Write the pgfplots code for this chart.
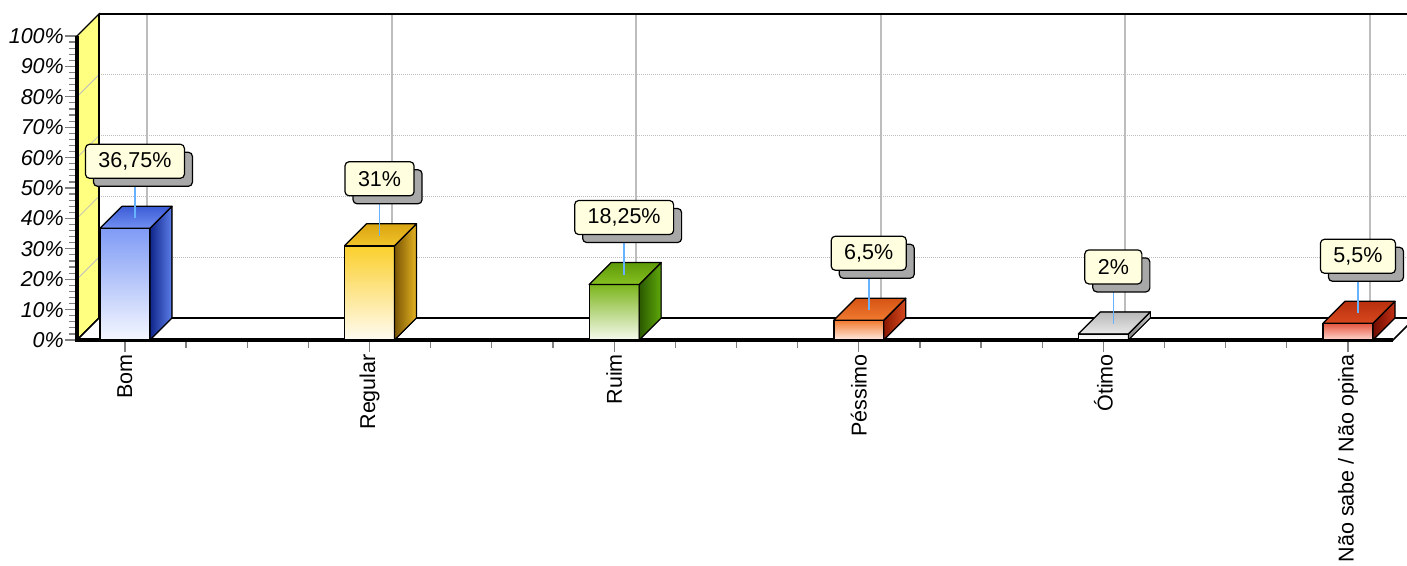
\documentclass[border=0pt]{standalone}
\usepackage{pgfplots}
\pgfplotsset{compat=1.18}
\usepackage{pgfplotstable}
\usepackage{fontspec}
\setmainfont{Liberation Sans}
\usetikzlibrary{shadows}

\definecolor{wallyellow}{HTML}{FFFF80}
\definecolor{labelfill}{HTML}{FFFFE0}
\definecolor{leader}{HTML}{66B2FF}
\definecolor{gridgray}{HTML}{BDBDBD}
\definecolor{tickgray}{HTML}{808080}

\tikzset{labelbox/.style={
    anchor=center, font=\fontsize{21.5}{25}\selectfont, text=black,
    fill=labelfill, draw=black, line width=1.2pt, rounded corners=4pt,
    inner xsep=13pt, inner ysep=0pt, minimum height=34pt,
    drop shadow={shadow xshift=8pt, shadow yshift=-8pt, fill=black!34, opacity=1, rounded corners=0pt}}}

\pgfdeclareplotmark{none3d}{}
\newcommand\setbar[6]{%
  \definecolor{cF}{HTML}{#1}\definecolor{cB}{HTML}{#2}%
  \definecolor{cSd}{HTML}{#3}\definecolor{cSl}{HTML}{#4}%
  \definecolor{cT1}{HTML}{#5}\definecolor{cT2}{HTML}{#6}}

\pgfplotstableread{
x v c
0 36.75 0
1 31 1
2 18.25 2
3 6.5 3
4 2 4
5 5.5 5
}\datatable

\def\xL{-0.196}
\def\xR{5.184}

\begin{document}
\begin{tikzpicture}
\begin{axis}[
  x=244.6pt, y=3.04pt,
  xmin=\xL, xmax=\xR, ymin=0, ymax=100,
  clip=false,
  axis x line*=bottom, axis y line*=left,
  axis line style={draw=none},
  tick align=outside,
  tick style={tickgray, line width=1.2pt},
  major tick length=12pt, minor tick length=8pt,
  xtick={0,...,5}, minor x tick num=3,
  xticklabels={Bom,Regular,Ruim,Péssimo,Ótimo,Não sabe / Não opina},
  xticklabel style={rotate=90, anchor=east, inner sep=2pt, font=\fontsize{21.5}{25}\selectfont},
  ytick={0,10,...,100}, minor y tick num=4,
  yticklabels={0\%,10\%,20\%,30\%,40\%,50\%,60\%,70\%,80\%,90\%,100\%},
  yticklabel style={anchor=east, inner sep=1pt, font=\fontsize{21.5}{25}\selectfont\itshape},
]
% left (yellow) wall
\filldraw[fill=wallyellow, draw=black, line width=1.2pt]
  (axis cs:\xL,0) -- ([shift={(22pt,22pt)}]axis cs:\xL,0)
  -- ([shift={(22pt,22pt)}]axis cs:\xL,100) -- (axis cs:\xL,100) -- cycle;
\pgfplotsinvokeforeach{20,40,60,80}{
  \draw[gridgray, line width=0.8pt] (axis cs:\xL,#1) -- ([shift={(22pt,22pt)}]axis cs:\xL,#1);
  \draw[gridgray, line width=1pt, densely dotted] ([shift={(22pt,22pt)}]axis cs:\xL,#1) -- ([shift={(22pt,22pt)}]axis cs:\xR,#1);
}
\pgfplotsinvokeforeach{0,...,5}{
  \draw[gridgray, line width=2pt] ([shift={(22pt,22pt)}]axis cs:#1,0) -- ([shift={(22pt,22pt)}]axis cs:#1,100);
}
\draw[black, line width=2pt] ([shift={(22pt,22pt)}]axis cs:\xL,100) -- ([shift={(40pt,22pt)}]axis cs:\xR,100);
\draw[black, line width=1.2pt] ([shift={(22pt,22pt)}]axis cs:\xL,0) -- ([shift={(22pt,22pt)}]axis cs:\xL,100);
% floor
\filldraw[fill=white, draw=black, line width=1.6pt]
  (axis cs:\xL,0) -- (axis cs:\xR,0) -- ([shift={(22pt,22pt)}]axis cs:\xR,0)
  -- ([shift={(22pt,22pt)}]axis cs:\xL,0) -- cycle;

% 3D bars with callouts
\addplot[
  scatter, only marks, mark=none3d,
  visualization depends on={\thisrow{v} \as \val},
  visualization depends on={\thisrow{c} \as \ci},
  scatter/@pre marker code/.code={%
    \pgfmathfloatparsenumber{\val}\pgfmathfloattofixed{\pgfmathresult}\let\vv\pgfmathresult
    \pgfmathfloatparsenumber{\ci}\pgfmathfloattofixed{\pgfmathresult}\let\cc\pgfmathresult
    \pgfkeys{/pgf/fpu=false}%
    \pgfmathsetmacro\hv{-3.04*\vv}%
    \pgfmathsetmacro\hw{22-3.04*\vv}%
    \pgfmathtruncatemacro\cii{\cc}%
    \ifcase\cii\relax
      \setbar{7F9BF5}{F5F7FF}{0F268A}{5C7EE8}{3C5CD6}{7290F2}%
    \or
      \setbar{FBCF2C}{FFFCF2}{7A5604}{E6B422}{D9A412}{F2C42A}%
    \or
      \setbar{7CB51C}{F6FAEE}{2A5800}{5FA80A}{5E9A08}{86C022}%
    \or
      \setbar{F27A2E}{FFEDE4}{8A1800}{D64A1E}{D65414}{F07A30}%
    \or
      \setbar{F2F2F2}{FFFFFF}{808080}{C8C8C8}{B8B8B8}{E8E8E8}%
    \else
      \setbar{E4553E}{FFD8D0}{6E0C00}{C23014}{B8300E}{D8481E}%
    \fi
    \shade[top color=cF, bottom color=cB] (-25pt,\hv pt) rectangle (25pt,0pt);
    \draw[black, line width=1.2pt, line join=round] (-25pt,\hv pt) rectangle (25pt,0pt);
    \shade[left color=cSd, right color=cSl] (25pt,\hv pt) -- (47pt,\hw pt) -- (47pt,22pt) -- (25pt,0pt) -- cycle;
    \draw[black, line width=1.2pt, line join=round] (25pt,\hv pt) -- (47pt,\hw pt) -- (47pt,22pt) -- (25pt,0pt) -- cycle;
    \shade[top color=cT1, bottom color=cT2] (-25pt,0pt) -- (25pt,0pt) -- (47pt,22pt) -- (-3pt,22pt) -- cycle;
    \draw[black, line width=1.2pt, line join=round] (-25pt,0pt) -- (25pt,0pt) -- (47pt,22pt) -- (-3pt,22pt) -- cycle;
    \draw[leader, line width=1.6pt] (10pt,10pt) -- (10pt,55pt);
    \node[labelbox] at (10pt,67pt) {\pgfmathprintnumber[use comma, precision=2, assume math mode=true]{\vv}\%};
  },
  scatter/@post marker code/.code={},
] table[x=x, y=v] {\datatable};

% front edges
\draw[black, line width=4pt] (axis cs:\xL,0) -- (axis cs:\xR,0);
\draw[black, line width=4pt] (axis cs:\xL,-0.6) -- (axis cs:\xL,100);
\coordinate (O) at (axis cs:\xL,0);
\end{axis}
\pgfresetboundingbox
\path[use as bounding box] ([shift={(-77pt,-225pt)}]O) rectangle ([shift={(1330pt,340pt)}]O);
\end{tikzpicture}
\end{document}
